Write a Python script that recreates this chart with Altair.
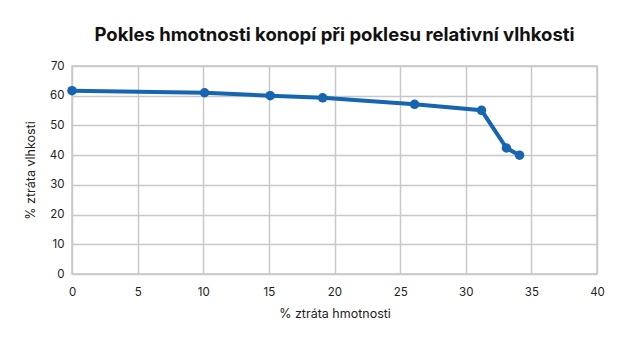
import altair as alt
import pandas as pd

weight_loss = [0, 10.1, 15.1, 19.1, 26.1, 31.2, 33.1, 34.1]
moisture_loss = [61.7, 61.0, 60.0, 59.3, 57.1, 55.1, 42.4, 40.0]
x_ticks = [0, 5, 10, 15, 20, 25, 30, 35, 40]
y_ticks = [0, 10, 20, 30, 40, 50, 60, 70]

df = pd.DataFrame({"x": weight_loss, "y": moisture_loss})

FONT = "Inter"
color = "#1565b0"

base = alt.Chart(df).encode(
    x=alt.X("x:Q", scale=alt.Scale(domain=[0, 40], nice=False),
            axis=alt.Axis(values=x_ticks, tickCount=9, title="% ztráta hmotnosti")),
    y=alt.Y("y:Q", scale=alt.Scale(domain=[0, 70], nice=False),
            axis=alt.Axis(values=y_ticks, tickCount=8, title="% ztráta vlhkosti")),
)
line = base.mark_line(color=color, strokeWidth=4)
pts = base.mark_point(color=color, filled=True, opacity=1, size=90)

chart = (line + pts).properties(
    width=525, height=208,
    padding={"left": 72, "top": 66, "right": 35, "bottom": 79},
    autosize=alt.AutoSizeParams(type="none"),
    title=alt.TitleParams("Pokles hmotnosti konopí při poklesu relativní vlhkosti",
                          font=FONT, fontSize=18.5, fontWeight="bold", color="#111",
                          anchor="middle", offset=16),
).configure_view(stroke="#c8c8c8", strokeWidth=1.5).configure_axis(
    gridColor="#c8c8c8", gridWidth=1.5, domain=False, ticks=False,
    labelOverlap=False, labelFlush=False,
    labelFont=FONT, labelFontSize=11.5, labelColor="#222",
    titleFont=FONT, titleFontSize=12.5, titleFontWeight="normal", titleColor="#222",
).configure_axisX(labelPadding=12, titlePadding=10).configure_axisY(labelPadding=8, titlePadding=12)

chart.save("out.html", embed_options={"renderer": "svg", "actions": False})
